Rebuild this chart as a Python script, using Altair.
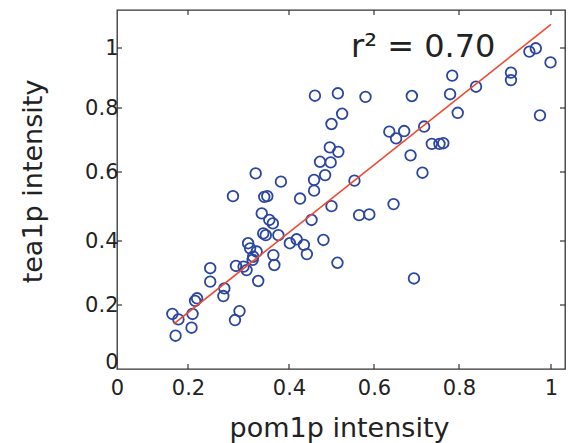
import altair as alt
import pandas as pd

# ---- data ----
pom1p = [0.461, 0.515, 0.580, 0.689, 0.779, 0.784, 0.837, 0.913, 0.913, 0.953,
         0.967, 0.999, 0.976, 0.797, 0.525, 0.500, 0.636, 0.671, 0.652, 0.718,
         0.736, 0.754, 0.763, 0.496, 0.516, 0.686, 0.473, 0.498, 0.485, 0.714,
         0.334, 0.384, 0.459, 0.459, 0.554, 0.289, 0.357, 0.351, 0.426, 0.646,
         0.500, 0.565, 0.589, 0.453, 0.346, 0.361, 0.368, 0.349, 0.354, 0.379,
         0.418, 0.402, 0.435, 0.481, 0.319, 0.323, 0.336, 0.369, 0.442, 0.371,
         0.328, 0.310, 0.295, 0.244, 0.514, 0.339, 0.244, 0.272, 0.270, 0.218,
         0.214, 0.302, 0.293, 0.156, 0.173, 0.209, 0.207, 0.165, 0.694, 0.316,
         0.329]
tea1p = [0.841, 0.849, 0.837, 0.840, 0.846, 0.908, 0.871, 0.918, 0.893, 0.988,
         0.999, 0.952, 0.777, 0.785, 0.782, 0.750, 0.726, 0.728, 0.705, 0.742,
         0.688, 0.688, 0.690, 0.677, 0.663, 0.652, 0.632, 0.630, 0.591, 0.598,
         0.596, 0.572, 0.577, 0.546, 0.575, 0.530, 0.530, 0.528, 0.523, 0.507,
         0.501, 0.475, 0.477, 0.461, 0.480, 0.461, 0.451, 0.422, 0.417, 0.417,
         0.405, 0.393, 0.388, 0.403, 0.393, 0.377, 0.367, 0.356, 0.359, 0.325,
         0.341, 0.320, 0.322, 0.315, 0.332, 0.275, 0.273, 0.252, 0.228, 0.221,
         0.213, 0.181, 0.153, 0.172, 0.155, 0.172, 0.129, 0.104, 0.283, 0.309,
         0.351]
fit_x = [0.16, 1.0]
fit_y = [0.141, 1.079]
tick_values = [0, 0.2, 0.4, 0.6, 0.8, 1.0]
inner_ticks = [0.2, 0.4, 0.6, 0.8, 1.0]
r2_text = ["r\u00b2 = 0.70"]
r2_x = [0.546]
r2_y = [0.971]

# ---- layout / scales ----
W, H = 448, 359
x_scale = alt.Scale(domain=[0, 0.2, 0.4, 0.6, 0.8, 1.0, 1.03],
                    range=[0, 71, 172, 257, 342, 434, 448], zero=False, nice=False)
y_scale = alt.Scale(domain=[0, 0.2, 0.4, 0.6, 0.8, 1.0, 1.127],
                    range=[359, 295, 231, 162, 98, 38, 0], zero=False, nice=False)

x_axis = alt.Axis(values=tick_values, format="~g", title="pom1p intensity",
                  ticks=False, tickSize=0, domain=False, grid=False, labelPadding=8,
                  labelFlush=False,
                  titleX=222, titleY=67, titleBaseline="alphabetic", titleAlign="center")
y_axis = alt.Axis(values=tick_values, format="~g", title="tea1p intensity",
                  ticks=False, tickSize=0, domain=False, grid=False, labelPadding=-1,
                  labelFlush=False,
                  labelOffset={"condition": {"test": "datum.value === 0", "value": -7},
                               "value": 0},
                  titleX=-70, titleY=171, titleAngle=270, titleBaseline="bottom",
                  titleAlign="center")


def X(field="x"):
    return alt.X(f"{field}:Q", scale=x_scale, axis=x_axis)


def Y(field="y"):
    return alt.Y(f"{field}:Q", scale=y_scale, axis=y_axis)


pts = pd.DataFrame({"x": pom1p, "y": tea1p})
fit = pd.DataFrame({"x": fit_x, "y": fit_y})
ticks_df = pd.DataFrame({"x": inner_ticks, "y": inner_ticks})
ann = pd.DataFrame({"x": r2_x, "y": r2_y, "t": r2_text})

tick_color = "#333333"

points = alt.Chart(pts).mark_point(
    shape="circle", filled=False, size=112, strokeWidth=1.8, color="#2a46a0", opacity=1
).encode(x=X(), y=Y())

line = alt.Chart(fit).mark_line(color="#f04a30", strokeWidth=1.6).encode(x=X(), y=Y())

tick_bottom = alt.Chart(ticks_df).mark_rule(color=tick_color, strokeWidth=1.2).encode(
    x=X(), y=alt.value(H), y2=alt.value(H - 5))
tick_top = alt.Chart(ticks_df).mark_rule(color=tick_color, strokeWidth=1.2).encode(
    x=X(), y=alt.value(0), y2=alt.value(5))
tick_left = alt.Chart(ticks_df).mark_rule(color=tick_color, strokeWidth=1.2).encode(
    y=Y(), x=alt.value(0), x2=alt.value(5))
tick_right = alt.Chart(ticks_df).mark_rule(color=tick_color, strokeWidth=1.2).encode(
    y=Y(), x=alt.value(W), x2=alt.value(W - 5))

label = alt.Chart(ann).mark_text(
    font="DejaVu Sans", fontSize=32, align="left", baseline="alphabetic", color="#222222"
).encode(x=X(), y=Y(), text="t:N")

chart = alt.layer(
    tick_bottom, tick_top, tick_left, tick_right, points, line, label
).properties(
    width=W, height=H,
    padding={"left": 117, "top": 10, "right": 3, "bottom": 74},
    autosize="none",
).configure_axis(
    labelFont="DejaVu Sans", titleFont="DejaVu Sans",
    labelFontSize=21, titleFontSize=27, titleFontWeight="normal",
    labelColor="#222222", titleColor="#222222",
).configure_view(
    stroke="#333333", strokeWidth=1.3
)

chart.save("out.html", embed_options={"renderer": "svg", "actions": False})
